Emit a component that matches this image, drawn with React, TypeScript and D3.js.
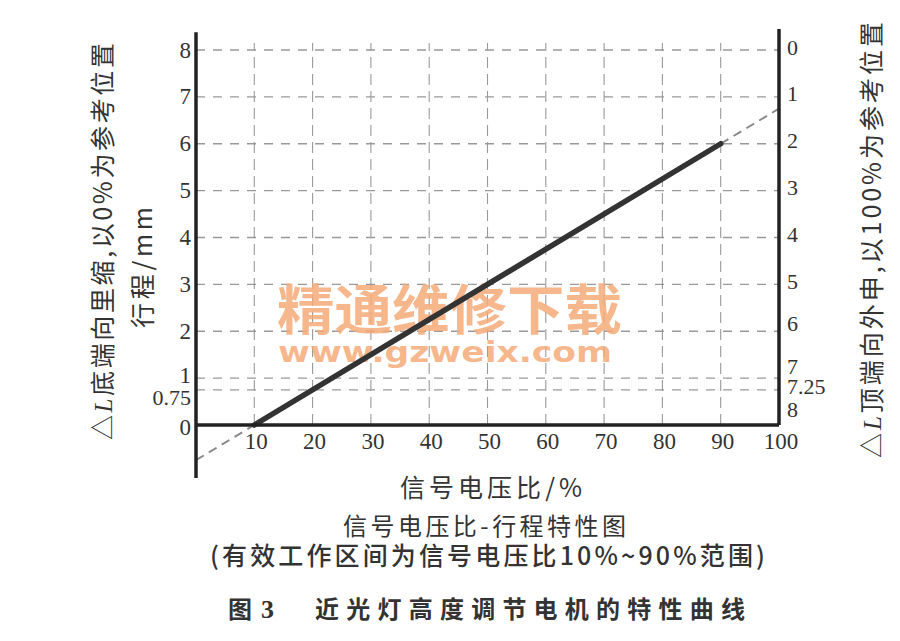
import React from "react";
import * as d3 from "d3";

const xTicks = [10, 20, 30, 40, 50, 60, 70, 80, 90, 100];
const leftTicks = [0, 0.75, 1, 2, 3, 4, 5, 6, 7, 8];
const leftTickLabels = ["0", "0.75", "1", "2", "3", "4", "5", "6", "7", "8"];
const rightTicks = [0, 1, 2, 3, 4, 5, 6, 7, 7.25, 8];
const rightTickLabels = ["0", "1", "2", "3", "4", "5", "6", "7", "7.25", "8"];
const hGrid = [0.75, 1, 2, 3, 4, 5, 6, 7, 8];
const vGrid = [10, 20, 30, 40, 50, 60, 70, 80, 90];

// characteristic: signal voltage ratio (%) -> stroke (mm)
const solidSeries: [number, number][] = [[10, 0], [90, 6]];
const dashLow: [number, number][] = [[0, -0.75], [10, 0]];
const dashHigh: [number, number][] = [[90, 6], [100, 6.75]];

const serif = "'Liberation Serif', 'DejaVu Serif', serif";
const cjk = "'Noto Sans CJK SC', 'Noto Sans', sans-serif";

export default function App() {
  const W = 900, H = 641;
  const x = d3.scaleLinear().domain([0, 100]).range([196, 779]);
  const y = d3.scaleLinear().domain([0, 8]).range([425, 50]);
  const line = d3.line<[number, number]>().x(d => x(d[0])).y(d => y(d[1]));

  const leftNudge = (v: number) => (v === 0.75 ? 8 : v === 1 ? -3 : v === 0 ? 2 : 0);
  const rightNudge = (v: number) => (v === 8 ? -16 : v === 7 ? -12 : v === 7.25 ? -3 : v === 6 ? -8 : -3);

  return (
    <svg width={W} height={H} style={{ position: "absolute", left: 0, top: 0, background: "#fff" }}>
      <rect x={0} y={0} width={W} height={H} fill="#fff" />
      {/* grid */}
      {hGrid.map(v => (
        <line key={"h" + v} x1={x(0)} x2={x(100)} y1={y(v)} y2={y(v)}
          stroke="#999" strokeWidth={1.4} strokeDasharray="9 8" />
      ))}
      {vGrid.map(v => (
        <line key={"v" + v} x1={x(v)} x2={x(v)} y1={y(0)} y2={y(8.15)}
          stroke="#999" strokeWidth={1.1} strokeDasharray="11 6" />
      ))}
      {/* watermark */}
      <text x={277} y={330} textLength={345} lengthAdjust="spacingAndGlyphs" fontFamily={cjk} fontWeight={700}
        fontSize={54} fill="#f5aa78" fillOpacity={0.85}>精通维修下载</text>
      <text x={278} y={362} textLength={334} lengthAdjust="spacingAndGlyphs" fontFamily="'DejaVu Sans', sans-serif" fontWeight={700}
        fontSize={29} fill="#f5aa78" fillOpacity={0.85}>www.gzweix.com</text>
      {/* dashed extensions */}
      <path d={line(dashLow) || ""} fill="none" stroke="#888" strokeWidth={2} strokeDasharray="9 6" />
      <path d={line(dashHigh) || ""} fill="none" stroke="#888" strokeWidth={2} strokeDasharray="9 6" />
      {/* main line */}
      <path d={line(solidSeries) || ""} fill="none" stroke="#333" strokeWidth={5.5} strokeLinecap="round" />
      {/* axes */}
      <line x1={x(0)} x2={x(0)} y1={y(8.38)} y2={y(-1.13)} stroke="#222" strokeWidth={3.5} />
      <line x1={x(100)} x2={x(100)} y1={y(8.45)} y2={y(0)} stroke="#222" strokeWidth={3.5} />
      <line x1={x(0)} x2={x(100)} y1={y(0)} y2={y(0)} stroke="#222" strokeWidth={3.5} />
      {/* left tick labels */}
      {leftTicks.map((v, i) => (
        <text key={"l" + v} x={191} y={y(v) + leftNudge(v)} textAnchor="end" dominantBaseline="central"
          fontFamily={serif} fontSize={v === 0.75 ? 22 : 23} fill="#333">{leftTickLabels[i]}</text>
      ))}
      {/* right tick labels */}
      {rightTicks.map((v, i) => (
        <text key={"r" + v} x={787} y={y(8 - v) + rightNudge(v)} textAnchor="start" dominantBaseline="central"
          fontFamily={serif} fontSize={22} fill="#333">{rightTickLabels[i]}</text>
      ))}
      {/* x tick labels */}
      {xTicks.map(v => (
        <text key={"x" + v} x={x(v) + 2} y={441} textAnchor="middle" dominantBaseline="central"
          fontFamily={serif} fontSize={23} fill="#333">{v}</text>
      ))}
      {/* left axis title */}
      <text transform="translate(112,440) rotate(-90)" textAnchor="start" textLength={397} lengthAdjust="spacing"
        fontFamily={cjk} fontSize={25} fill="#333">△<tspan fontFamily={serif} fontStyle="italic">L</tspan>底端向里缩,以0%为参考位置</text>
      <text transform="translate(152,328) rotate(-90)" textAnchor="start" textLength={121} lengthAdjust="spacing"
        fontFamily={cjk} fontSize={25} fill="#333">行程/mm</text>
      {/* right axis title */}
      <text transform="translate(881,458) rotate(-90)" textAnchor="start" textLength={436} lengthAdjust="spacing"
        fontFamily={cjk} fontSize={25} fill="#333">△<tspan fontFamily={serif} fontStyle="italic">L</tspan>顶端向外申,以100%为参考位置</text>
      {/* x axis title */}
      <text x={400} y={497} textLength={182} lengthAdjust="spacing" fontFamily={cjk} fontSize={25} fill="#333">信号电压比/%</text>
      {/* captions */}
      <text x={343} y={535} textLength={283} lengthAdjust="spacing" fontFamily={cjk} fontSize={24} fill="#333">信号电压比-行程特性图</text>
      <text x={210} y={565} textLength={555} lengthAdjust="spacing" fontFamily={cjk} fontSize={25} fontWeight={500} fill="#333">(有效工作区间为信号电压比10%~90%范围)</text>
      <text x={228} y={618} fontFamily={cjk} fontSize={24} fontWeight={700} fill="#333">图<tspan dx={9} fontFamily={serif} fontSize={26}>3</tspan></text>
      <text x={315} y={618} textLength={430} lengthAdjust="spacing" fontFamily={cjk} fontSize={24} fontWeight={700} fill="#333">近光灯高度调节电机的特性曲线</text>
    </svg>
  );
}
